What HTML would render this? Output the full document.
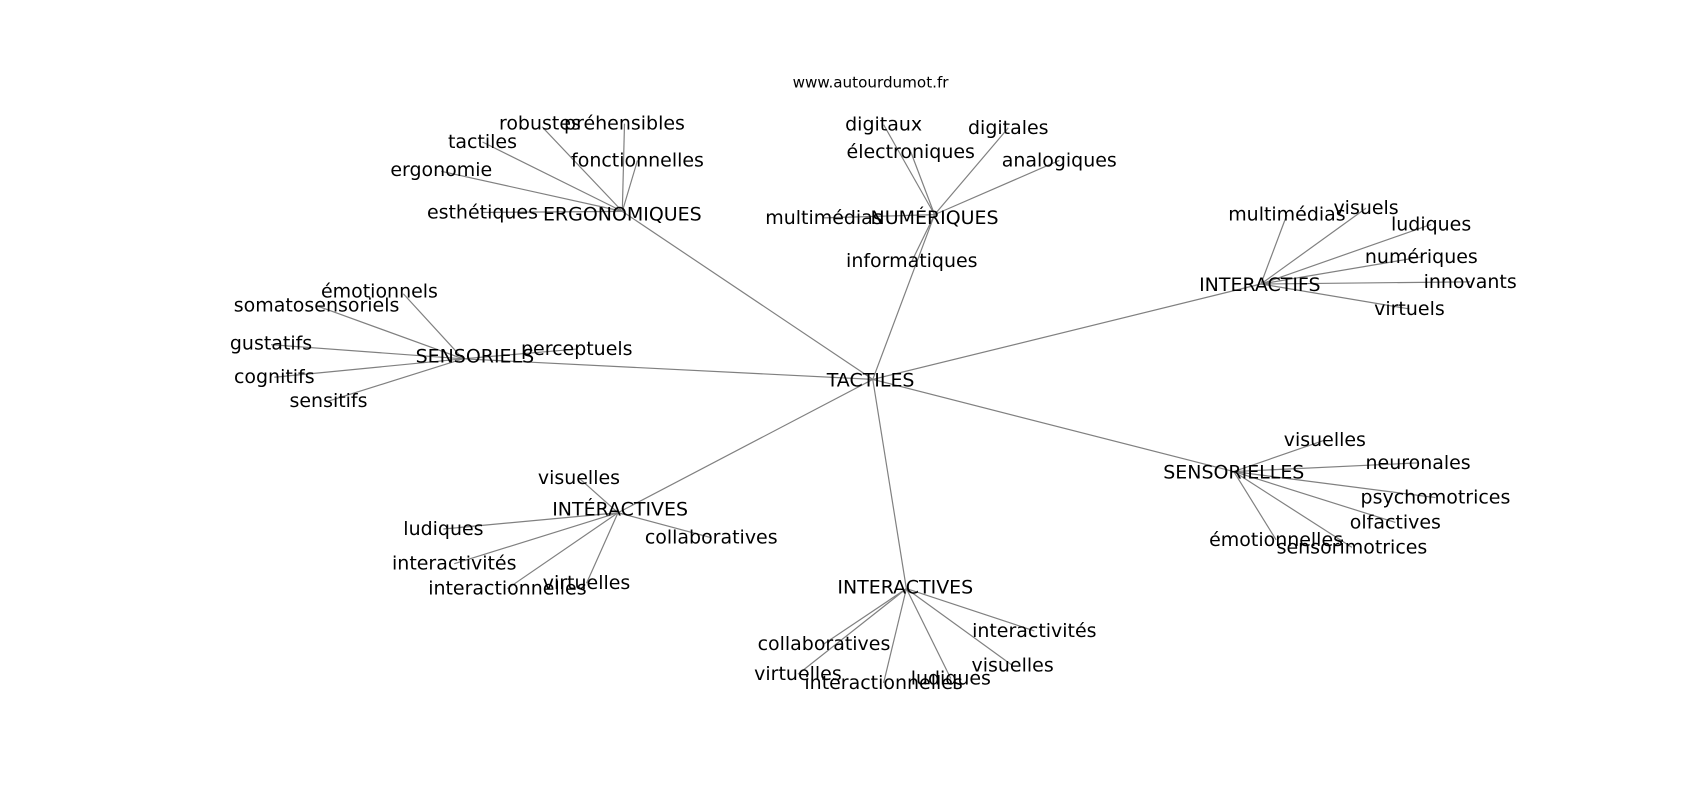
<!DOCTYPE html>
<html><head><meta charset="utf-8"><style>
html,body{margin:0;padding:0;background:#fff;}
svg text{font-family:"DejaVu Sans","Liberation Sans",sans-serif;font-size:17.5px;fill:#000;text-anchor:middle;dominant-baseline:central;}
line{stroke:#808080;stroke-width:1.1;}
</style></head><body>
<svg width="1700" height="800" viewBox="0 0 1568 738" preserveAspectRatio="none" xmlns="http://www.w3.org/2000/svg">
<g>
<line x1="805" y1="350" x2="574" y2="195"/>
<line x1="805" y1="350" x2="862" y2="198"/>
<line x1="805" y1="350" x2="1163" y2="262"/>
<line x1="805" y1="350" x2="427" y2="331"/>
<line x1="805" y1="350" x2="1138" y2="435"/>
<line x1="805" y1="350" x2="570" y2="473"/>
<line x1="805" y1="350" x2="836" y2="543"/>
<line x1="574" y1="195" x2="500" y2="117"/>
<line x1="574" y1="195" x2="576" y2="114"/>
<line x1="574" y1="195" x2="445" y2="131"/>
<line x1="574" y1="195" x2="407" y2="158"/>
<line x1="574" y1="195" x2="588" y2="148"/>
<line x1="574" y1="195" x2="445" y2="196"/>
<line x1="862" y1="198" x2="815" y2="115"/>
<line x1="862" y1="198" x2="840" y2="140"/>
<line x1="862" y1="198" x2="930" y2="118"/>
<line x1="862" y1="198" x2="977" y2="148"/>
<line x1="862" y1="198" x2="760" y2="201"/>
<line x1="862" y1="198" x2="841" y2="241"/>
<line x1="1163" y1="262" x2="1187" y2="198"/>
<line x1="1163" y1="262" x2="1260" y2="192"/>
<line x1="1163" y1="262" x2="1320" y2="207"/>
<line x1="1163" y1="262" x2="1311" y2="237"/>
<line x1="1163" y1="262" x2="1356" y2="260"/>
<line x1="1163" y1="262" x2="1300" y2="285"/>
<line x1="427" y1="331" x2="372" y2="271"/>
<line x1="427" y1="331" x2="292" y2="282"/>
<line x1="427" y1="331" x2="250" y2="318"/>
<line x1="427" y1="331" x2="253" y2="348"/>
<line x1="427" y1="331" x2="303" y2="370"/>
<line x1="427" y1="331" x2="532" y2="322"/>
<line x1="1138" y1="435" x2="1222" y2="406"/>
<line x1="1138" y1="435" x2="1308" y2="427"/>
<line x1="1138" y1="435" x2="1324" y2="459"/>
<line x1="1138" y1="435" x2="1287" y2="482"/>
<line x1="1138" y1="435" x2="1177" y2="498"/>
<line x1="1138" y1="435" x2="1247" y2="505"/>
<line x1="570" y1="473" x2="534" y2="441"/>
<line x1="570" y1="473" x2="409" y2="488"/>
<line x1="570" y1="473" x2="419" y2="520"/>
<line x1="570" y1="473" x2="468" y2="543"/>
<line x1="570" y1="473" x2="541" y2="538"/>
<line x1="570" y1="473" x2="656" y2="496"/>
<line x1="836" y1="543" x2="760" y2="594"/>
<line x1="836" y1="543" x2="736" y2="622"/>
<line x1="836" y1="543" x2="815" y2="630"/>
<line x1="836" y1="543" x2="877" y2="626"/>
<line x1="836" y1="543" x2="934" y2="614"/>
<line x1="836" y1="543" x2="954" y2="582"/>
</g>
<text x="803" y="76" style="font-size:14px">www.autourdumot.fr</text>
<text x="803" y="351">TACTILES</text>
<text x="574" y="198">ERGONOMIQUES</text>
<text x="498" y="114">robustes</text>
<text x="576" y="114">préhensibles</text>
<text x="445" y="131">tactiles</text>
<text x="407" y="157">ergonomie</text>
<text x="588" y="148">fonctionnelles</text>
<text x="445" y="196">esthétiques</text>
<text x="862" y="201">NUMÉRIQUES</text>
<text x="815" y="115">digitaux</text>
<text x="840" y="140">électroniques</text>
<text x="930" y="118">digitales</text>
<text x="977" y="148">analogiques</text>
<text x="760" y="201">multimédias</text>
<text x="841" y="241">informatiques</text>
<text x="1162" y="263">INTERACTIFS</text>
<text x="1187" y="198">multimédias</text>
<text x="1260" y="192">visuels</text>
<text x="1320" y="207">ludiques</text>
<text x="1311" y="237">numériques</text>
<text x="1356" y="260">innovants</text>
<text x="1300" y="285">virtuels</text>
<text x="438" y="329">SENSORIELS</text>
<text x="350" y="269">émotionnels</text>
<text x="292" y="282">somatosensoriels</text>
<text x="250" y="317">gustatifs</text>
<text x="253" y="348">cognitifs</text>
<text x="303" y="370">sensitifs</text>
<text x="532" y="322">perceptuels</text>
<text x="1138" y="436">SENSORIELLES</text>
<text x="1222" y="406">visuelles</text>
<text x="1308" y="427">neuronales</text>
<text x="1324" y="459">psychomotrices</text>
<text x="1287" y="482">olfactives</text>
<text x="1177" y="498">émotionnelles</text>
<text x="1247" y="505">sensorimotrices</text>
<text x="572" y="470">INTÉRACTIVES</text>
<text x="534" y="441">visuelles</text>
<text x="409" y="488">ludiques</text>
<text x="419" y="520">interactivités</text>
<text x="468" y="543">interactionnelles</text>
<text x="541" y="538">virtuelles</text>
<text x="656" y="496">collaboratives</text>
<text x="835" y="542">INTERACTIVES</text>
<text x="760" y="594">collaboratives</text>
<text x="736" y="622">virtuelles</text>
<text x="815" y="630">interactionnelles</text>
<text x="877" y="626">ludiques</text>
<text x="934" y="614">visuelles</text>
<text x="954" y="582">interactivités</text>
</svg>
</body></html>
